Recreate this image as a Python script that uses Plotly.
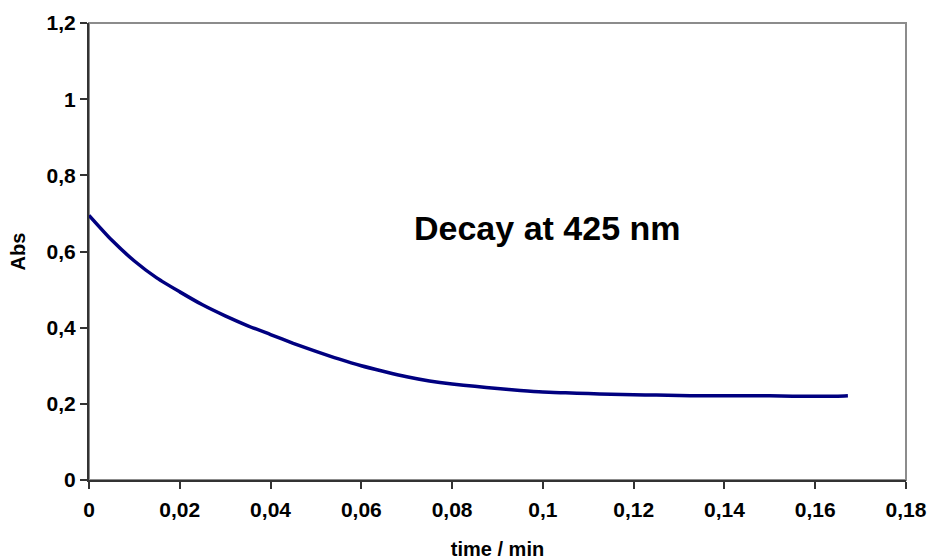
import plotly.graph_objects as go

time_min = [0, 0.005, 0.01, 0.015, 0.02, 0.025, 0.03, 0.035, 0.04, 0.045, 0.05,
            0.055, 0.06, 0.065, 0.07, 0.075, 0.08, 0.085, 0.09, 0.095, 0.1,
            0.105, 0.11, 0.115, 0.12, 0.125, 0.13, 0.135, 0.14, 0.145, 0.15,
            0.155, 0.16, 0.165, 0.1672]
absorbance = [0.695, 0.630, 0.575, 0.530, 0.494, 0.460, 0.431, 0.405, 0.382, 0.359, 0.338,
              0.318, 0.300, 0.285, 0.271, 0.260, 0.252, 0.246, 0.240, 0.235, 0.231,
              0.229, 0.227, 0.225, 0.224, 0.223, 0.222, 0.221, 0.221, 0.221, 0.221,
              0.220, 0.220, 0.220, 0.221]

x_ticks = [0, 0.02, 0.04, 0.06, 0.08, 0.1, 0.12, 0.14, 0.16, 0.18]
x_labels = ["0", "0,02", "0,04", "0,06", "0,08", "0,1", "0,12", "0,14", "0,16", "0,18"]
y_ticks = [0, 0.2, 0.4, 0.6, 0.8, 1.0, 1.2]
y_labels = ["0", "0,2", "0,4", "0,6", "0,8", "1", "1,2"]

FONT = "Liberation Sans"

fig = go.Figure()
fig.add_trace(go.Scatter(x=time_min, y=absorbance, mode="lines",
                         line=dict(color="#000080", width=3.5, shape="spline", smoothing=0.6),
                         showlegend=False, hoverinfo="skip"))

fig.add_shape(type="rect", xref="x domain", yref="y domain", x0=0, x1=1, y0=0, y1=1,
              line=dict(color="#8c8c8c", width=2), layer="below")

fig.add_annotation(x=0.101, y=0.661, xref="x", yref="y", text="<b>Decay at 425 nm</b>",
                   showarrow=False, font=dict(family=FONT, size=34, color="black"))

fig.update_layout(
    width=930, height=560,
    margin=dict(l=89, r=24, t=23, b=80),
    paper_bgcolor="white", plot_bgcolor="white",
    font=dict(family=FONT, color="black"),
    xaxis=dict(range=[0, 0.18], tickvals=x_ticks, ticktext=[f"<b>{t}</b>" for t in x_labels],
               showgrid=False, zeroline=False, showline=True, linecolor="#333333", linewidth=2,
               ticks="outside", ticklen=7, tickwidth=1.5, tickcolor="#333333",
               ticklabelstandoff=3, automargin=False,
               tickfont=dict(family=FONT, size=21, color="black"),
               title=dict(text="<b>time / min</b>", font=dict(family=FONT, size=20), standoff=29)),
    yaxis=dict(range=[0, 1.2], tickvals=y_ticks, ticktext=[f"<b>{t}</b>" for t in y_labels],
               showgrid=False, zeroline=False, showline=True, linecolor="#333333", linewidth=2,
               ticks="outside", ticklen=7, tickwidth=1.5, tickcolor="#333333",
               automargin=False,
               tickfont=dict(family=FONT, size=21, color="black"),
               title=dict(text="<b>Abs</b>", font=dict(family=FONT, size=20), standoff=16)),
)

fig.write_html("out.html")
